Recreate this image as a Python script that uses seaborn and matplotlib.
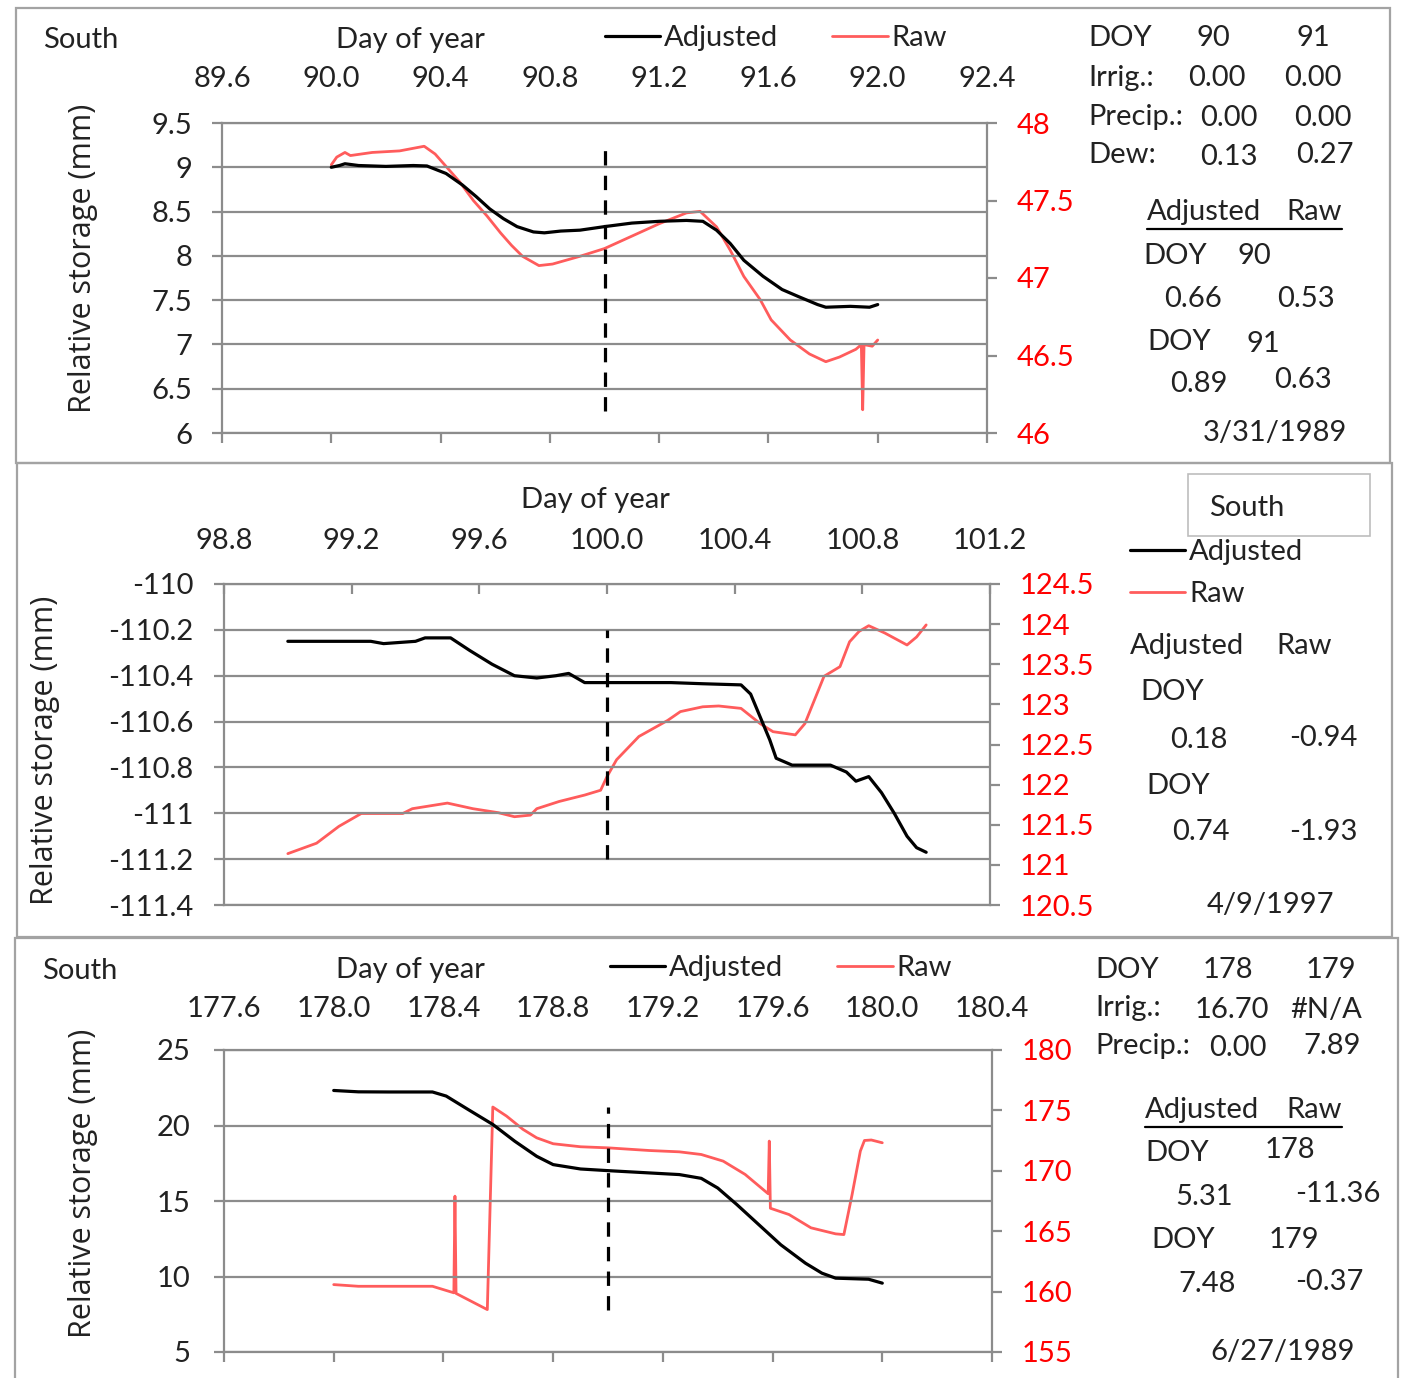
import matplotlib
matplotlib.use("Agg")
import matplotlib.pyplot as plt
import seaborn as sns
from matplotlib.lines import Line2D
from matplotlib.patches import Rectangle

# ---------------- panel 1 : 3/31/1989 ----------------
p1_adj_doy = [90.00, 90.03, 90.05, 90.10, 90.20, 90.30, 90.35, 90.42, 90.48, 90.53, 90.58,
              90.63, 90.68, 90.74, 90.78, 90.84, 90.91, 91.00, 91.10, 91.20, 91.30, 91.36,
              91.41, 91.46, 91.51, 91.58, 91.65, 91.71, 91.78, 91.81, 91.90, 91.97, 92.00]
p1_adj = [9.00, 9.02, 9.04, 9.02, 9.01, 9.02, 9.015, 8.93, 8.80, 8.67, 8.53,
          8.42, 8.33, 8.27, 8.26, 8.28, 8.29, 8.33, 8.37, 8.39, 8.40, 8.39,
          8.29, 8.14, 7.95, 7.77, 7.62, 7.54, 7.45, 7.42, 7.43, 7.42, 7.45]
p1_raw_doy = [90.00, 90.02, 90.05, 90.07, 90.15, 90.25, 90.34, 90.38, 90.42, 90.47, 90.52,
              90.57, 90.62, 90.66, 90.70, 90.76, 90.81, 90.91, 91.00, 91.10, 91.20, 91.30,
              91.35, 91.41, 91.46, 91.51, 91.57, 91.61, 91.68, 91.75, 91.81, 91.86, 91.92,
              91.940, 91.945, 91.950, 91.98, 92.00]
p1_raw = [47.73, 47.78, 47.81, 47.79, 47.81, 47.82, 47.85, 47.80, 47.72, 47.62, 47.50,
          47.40, 47.29, 47.21, 47.14, 47.08, 47.09, 47.14, 47.19, 47.27, 47.35, 47.42,
          47.43, 47.33, 47.18, 47.01, 46.86, 46.73, 46.60, 46.51, 46.46, 46.49, 46.54,
          46.57, 46.15, 46.57, 46.56, 46.60]
p1_xticks = [89.6, 90.0, 90.4, 90.8, 91.2, 91.6, 92.0, 92.4]
p1_yticks = [6, 6.5, 7, 7.5, 8, 8.5, 9, 9.5]
p1_ylabels = ["6", "6.5", "7", "7.5", "8", "8.5", "9", "9.5"]
p1_y2ticks = [46, 46.5, 47, 47.5, 48]
p1_y2labels = ["46", "46.5", "47", "47.5", "48"]
p1_split_doy = 91.0
p1_split_span = (6.25, 9.25)

# ---------------- panel 2 : 4/9/1997 ----------------
p2_adj_doy = [99.00, 99.10, 99.20, 99.26, 99.30, 99.35, 99.40, 99.43, 99.51, 99.57, 99.64,
              99.71, 99.78, 99.84, 99.88, 99.93, 100.00, 100.10, 100.20, 100.30, 100.42,
              100.45, 100.48, 100.51, 100.53, 100.58, 100.70, 100.75, 100.78, 100.80, 100.82,
              100.86, 100.90, 100.94, 100.97, 101.00]
p2_adj = [-110.25, -110.25, -110.25, -110.25, -110.26, -110.255, -110.25, -110.235, -110.235,
          -110.29, -110.35, -110.40, -110.41, -110.40, -110.39, -110.43, -110.43, -110.43,
          -110.43, -110.435, -110.44, -110.48, -110.58, -110.68, -110.76, -110.79, -110.79,
          -110.82, -110.86, -110.85, -110.84, -110.91, -111.00, -111.10, -111.15, -111.17]
p2_raw_doy = [99.00, 99.09, 99.16, 99.23, 99.30, 99.36, 99.39, 99.50, 99.58, 99.66, 99.71,
              99.76, 99.78, 99.85, 99.93, 99.98, 100.00, 100.03, 100.10, 100.19, 100.23,
              100.30, 100.35, 100.42, 100.48, 100.52, 100.59, 100.62, 100.68, 100.73, 100.76,
              100.79, 100.82, 100.87, 100.94, 100.97, 101.00]
p2_raw = [121.14, 121.27, 121.48, 121.64, 121.64, 121.64, 121.70, 121.77, 121.70, 121.65,
          121.60, 121.62, 121.70, 121.79, 121.87, 121.93, 122.10, 122.31, 122.60, 122.80,
          122.91, 122.97, 122.98, 122.95, 122.76, 122.66, 122.62, 122.76, 123.35, 123.47,
          123.78, 123.91, 123.98, 123.89, 123.74, 123.84, 123.99]
p2_xticks = [98.8, 99.2, 99.6, 100.0, 100.4, 100.8, 101.2]
p2_yticks = [-111.4, -111.2, -111.0, -110.8, -110.6, -110.4, -110.2, -110.0]
p2_ylabels = ["-111.4", "-111.2", "-111", "-110.8", "-110.6", "-110.4", "-110.2", "-110"]
p2_y2ticks = [120.5, 121, 121.5, 122, 122.5, 123, 123.5, 124, 124.5]
p2_y2labels = ["120.5", "121", "121.5", "122", "122.5", "123", "123.5", "124", "124.5"]
p2_split_doy = 100.0
p2_split_span = (-111.2, -110.2)

# ---------------- panel 3 : 6/27/1989 ----------------
p3_adj_doy = [178.00, 178.09, 178.20, 178.36, 178.41, 178.49, 178.58, 178.66, 178.74, 178.80,
              178.90, 179.00, 179.15, 179.26, 179.34, 179.40, 179.47, 179.55, 179.63, 179.72,
              179.78, 179.83, 179.95, 180.00]
p3_adj = [22.32, 22.23, 22.22, 22.22, 21.95, 21.06, 20.07, 18.96, 17.96, 17.41,
          17.12, 17.01, 16.86, 16.75, 16.50, 15.86, 14.76, 13.43, 12.10, 10.88,
          10.22, 9.89, 9.82, 9.56]
p3_raw_doy = [178.00, 178.09, 178.36, 178.438, 178.442, 178.446, 178.56, 178.58, 178.63,
              178.69, 178.74, 178.80, 178.90, 179.00, 179.15, 179.26, 179.34, 179.42, 179.50,
              179.584, 179.588, 179.592, 179.66, 179.74, 179.83, 179.86, 179.89, 179.92,
              179.935, 179.96, 180.00]
p3_raw = [160.58, 160.44, 160.44, 159.90, 167.90, 159.85, 158.51, 175.28, 174.53,
          173.43, 172.73, 172.24, 171.99, 171.90, 171.68, 171.57, 171.35, 170.80, 169.70,
          168.10, 172.46, 166.90, 166.38, 165.28, 164.78, 164.72, 168.04, 171.63,
          172.51, 172.55, 172.32]
p3_xticks = [177.6, 178.0, 178.4, 178.8, 179.2, 179.6, 180.0, 180.4]
p3_yticks = [5, 10, 15, 20, 25]
p3_ylabels = ["5", "10", "15", "20", "25"]
p3_y2ticks = [155, 160, 165, 170, 175, 180]
p3_y2labels = ["155", "160", "165", "170", "175", "180"]
p3_split_doy = 179.0
p3_split_span = (7.8, 21.2)

# ---------------- styling ----------------
sns.set_style("white")
plt.rcParams["font.family"] = ["Lato", "DejaVu Sans"]

W, H = 1406, 1378
fig = plt.figure(figsize=(W / 100, H / 100), dpi=100)

GRID = "#8c8c8c"
RAWC = "#ff5c5c"
TXT = "#222222"
FS = 21
YFS = 22


def fx(x):
    return x / W


def fy(y):
    return 1 - y / H


def text(x, y, s, ha="left", **kw):
    fig.text(fx(x), fy(y), s, ha=ha, va="center", fontsize=FS, color=TXT, **kw)


def ylabel(x, y):
    fig.text(fx(x), fy(y), "Relative storage (mm)", rotation=90, ha="center", va="center",
             fontsize=YFS, color=TXT, family=["Open Sans", "DejaVu Sans"])


def panel(box, xticks, yticks, ylabels, y2ticks, y2labels, adj, raw, split,
          top_ticks, xpad, ylpad, yrpad):
    left, right, top, bottom = box
    ax = fig.add_axes([fx(left), fy(bottom), (right - left) / W, (bottom - top) / H])
    ax2 = ax.twinx()

    sns.lineplot(x=adj[0], y=adj[1], ax=ax, color="black", lw=2.3,
                 estimator=None, sort=False, legend=False)
    sns.lineplot(x=raw[0], y=raw[1], ax=ax2, color=RAWC, lw=2.0,
                 estimator=None, sort=False, legend=False)
    ax.plot([split[0], split[0]], list(split[1]), color="black", lw=2.3,
            linestyle=(0, (4.5, 3.2)), zorder=5)

    ax.set_xlim(xticks[0], xticks[-1])
    ax.set_ylim(yticks[0], yticks[-1])
    ax2.set_ylim(y2ticks[0], y2ticks[-1])
    ax.set_xticks(xticks)
    ax.set_xticklabels([f"{v:.1f}" for v in xticks])
    ax.set_yticks(yticks)
    ax.set_yticklabels(ylabels)
    ax2.set_yticks(y2ticks)
    ax2.set_yticklabels(y2labels)
    ax.set_xlabel("")
    ax.set_ylabel("")
    ax2.set_ylabel("")

    ax.set_axisbelow(True)
    ax.yaxis.grid(True, color=GRID, lw=1.6)
    ax.xaxis.grid(False)
    for sp in ax.spines.values():
        sp.set_visible(True)
        sp.set_color(GRID)
        sp.set_linewidth(1.6)
    for sp in ax2.spines.values():
        sp.set_visible(False)

    if top_ticks:
        ax.tick_params(axis="x", top=True, bottom=False, labeltop=True, labelbottom=False,
                       direction="in", length=7, width=1.6, color=GRID, pad=xpad,
                       labelsize=FS, labelcolor=TXT)
    else:
        ax.tick_params(axis="x", top=False, bottom=True, labeltop=True, labelbottom=False,
                       direction="out", length=7, width=1.6, color=GRID, pad=xpad,
                       labelsize=FS, labelcolor=TXT)
    ax.tick_params(axis="y", left=True, right=False, direction="out", length=7, width=1.6,
                   color=GRID, pad=ylpad, labelsize=FS, labelcolor=TXT)
    ax2.tick_params(axis="y", right=True, left=False, direction="out", length=7, width=1.6,
                    color=GRID, pad=yrpad, labelsize=FS, labelcolor="#ff0000")
    ax.set_zorder(ax2.get_zorder() + 1)
    ax.patch.set_visible(False)
    return ax, ax2


def border(x0, y0, x1, y1):
    fig.add_artist(Rectangle((fx(x0), fy(y1)), (x1 - x0) / W, (y1 - y0) / H,
                             transform=fig.transFigure, fill=False,
                             edgecolor="#a3a3a3", lw=1.6))


def legend_row(ax, ax2, x, y, ncol, spacing):
    handles = [ax.lines[0], ax2.lines[0]]
    fig.legend(handles, ["Adjusted", "Raw"], loc="center left",
               bbox_to_anchor=(fx(x), fy(y)), ncol=ncol, frameon=False,
               fontsize=FS, handlelength=1.9, handletextpad=0.12,
               columnspacing=spacing, borderpad=0, borderaxespad=0,
               labelspacing=0.55, labelcolor=TXT)


def underline(x0, x1, y):
    fig.add_artist(Line2D([fx(x0), fx(x1)], [fy(y), fy(y)], transform=fig.transFigure,
                          color="black", lw=1.6))


# panel frames
border(16, 8, 1390, 463)
border(17, 463, 1392, 937)
border(15, 938, 1398, 1390)

# ---- panel 1 ----
ax1, ax1b = panel((222, 987, 123, 433), p1_xticks, p1_yticks, p1_ylabels,
                  p1_y2ticks, p1_y2labels, (p1_adj_doy, p1_adj), (p1_raw_doy, p1_raw),
                  (p1_split_doy, p1_split_span), False, 15, 14.5, 14.5)
text(43, 40, "South")
text(410, 40, "Day of year", ha="center")
legend_row(ax1, ax1b, 605, 38, 2, 1.85)
ylabel(83, 258)
text(1088, 38, "DOY")
text(1213, 38, "90", ha="center")
text(1313, 38, "91", ha="center")
text(1088, 78, "Irrig.:")
text(1217, 78, "0.00", ha="center")
text(1313, 78, "0.00", ha="center")
text(1088, 117, "Precip.:")
text(1229, 118, "0.00", ha="center")
text(1323, 118, "0.00", ha="center")
text(1088, 155, "Dew:")
text(1229, 157, "0.13", ha="center")
text(1325, 155, "0.27", ha="center")
text(1147, 212, "Adjusted")
text(1342, 212, "Raw", ha="right")
underline(1147, 1342, 229)
text(1143, 256, "DOY")
text(1254, 256, "90", ha="center")
text(1193, 299, "0.66", ha="center")
text(1306, 299, "0.53", ha="center")
text(1147, 342, "DOY")
text(1263, 344, "91", ha="center")
text(1199, 384, "0.89", ha="center")
text(1303, 380, "0.63", ha="center")
text(1275, 433, "3/31/1989", ha="center")

# ---- panel 2 ----
ax2a, ax2b = panel((224, 990, 584, 905), p2_xticks, p2_yticks, p2_ylabels,
                   p2_y2ticks, p2_y2labels, (p2_adj_doy, p2_adj), (p2_raw_doy, p2_raw),
                   (p2_split_doy, p2_split_span), True, 21.5, 15, 14)
text(595, 500, "Day of year", ha="center")
ylabel(45, 750)
fig.add_artist(Rectangle((fx(1188), fy(536)), 182 / W, 62 / H, transform=fig.transFigure,
                         fill=False, edgecolor="#bdbdbd", lw=1.2))
text(1209, 508, "South")
legend_row(ax2a, ax2b, 1130, 573, 1, 1.0)
text(1130, 646, "Adjusted")
text(1276, 646, "Raw")
text(1140, 692, "DOY")
text(1199, 740, "0.18", ha="center")
text(1323, 738, "-0.94", ha="center")
text(1146, 786, "DOY")
text(1201, 832, "0.74", ha="center")
text(1323, 832, "-1.93", ha="center")
text(1270, 905, "4/9/1997", ha="center")

# ---- panel 3 ----
ax3a, ax3b = panel((224, 992, 1050, 1352), p3_xticks, p3_yticks, p3_ylabels,
                   p3_y2ticks, p3_y2labels, (p3_adj_doy, p3_adj), (p3_raw_doy, p3_raw),
                   (p3_split_doy, p3_split_span), False, 13, 17, 14)
text(42, 971, "South")
text(410, 970, "Day of year", ha="center")
legend_row(ax3a, ax3b, 610, 968, 2, 1.85)
ylabel(83, 1183)
text(1095, 970, "DOY")
text(1228, 970, "178", ha="center")
text(1331, 970, "179", ha="center")
text(1095, 1008, "Irrig.:")
text(1232, 1010, "16.70", ha="center")
text(1326, 1010, "#N/A", ha="center")
text(1095, 1046, "Precip.:")
text(1238, 1048, "0.00", ha="center")
text(1332, 1046, "7.89", ha="center")
text(1145, 1110, "Adjusted")
text(1342, 1110, "Raw", ha="right")
underline(1145, 1342, 1127)
text(1145, 1153, "DOY")
text(1290, 1150, "178", ha="center")
text(1204, 1197, "5.31", ha="center")
text(1338, 1194, "-11.36", ha="center")
text(1151, 1240, "DOY")
text(1294, 1240, "179", ha="center")
text(1207, 1284, "7.48", ha="center")
text(1329, 1282, "-0.37", ha="center")
text(1283, 1352, "6/27/1989", ha="center")

fig.savefig("out.png", dpi=100, facecolor="white")
